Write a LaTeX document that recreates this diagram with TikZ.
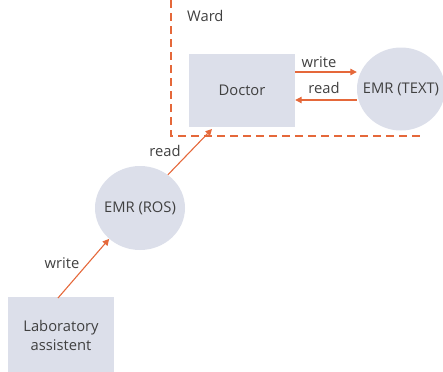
\documentclass[tikz,border=0pt]{standalone}
\usepackage{fontspec}
\setmainfont{Open Sans}
\usetikzlibrary{arrows.meta,shapes.geometric}
\definecolor{boxfill}{HTML}{DCDFEA}
\definecolor{accent}{HTML}{E5683A}
\definecolor{txt}{HTML}{404040}
\begin{document}
\begin{tikzpicture}[x=1bp,y=-1bp,
  lbl/.style={font=\fontsize{14.8}{19}\selectfont, text=txt, inner sep=0pt},
  actor/.style={rectangle, fill=boxfill, minimum width=106bp, minimum height=73bp, align=center, lbl},
  store/.style={ellipse, fill=boxfill, inner sep=0pt},
  link/.style={draw=accent, line width=1.1pt, -{Triangle[length=6.5pt,width=6.5pt]}}
]
\useasboundingbox (0,0) rectangle (443,371);
% ward boundary
\draw[accent, line width=1.1pt, dash pattern=on 8bp off 5bp] (171,0) -- (171,136) -- (420,136);
\node[lbl, anchor=west] (ward) at (187,16) {Ward};
% actors
\node[actor] (doctor) at (242,90.5) {Doctor};
\node[actor, minimum height=76bp] (lab) at (61,335) {Laboratory\\assistent};
% record stores: the shape is sized on its own, the caption sits on top
\node[store, minimum width=90bp, minimum height=84bp] (ros) at (140,208) {};
\node[lbl] (roslabel) at (ros.center) {EMR (ROS)};
\node[store, minimum width=88bp, minimum height=83bp] (text) at (401,89) {};
\node[lbl] (textlabel) at (text.center) {EMR (TEXT)};
% connectors
\coordinate (labtop) at (58,298);
\draw[link] (labtop) -- (ros.225);
\draw[link] (ros.50) -- (212,129);
\draw[link] (doctor.east |- 0,72) -- (text.west |- 0,72);
\draw[link] (text.west |- 0,100) -- (doctor.east |- 0,100);
% connector labels
\node[lbl] (w1) at (62,263) {write};
\node[lbl] (r1) at (165,151) {read};
\node[lbl] (w2) at (319,62) {write};
\node[lbl] (r2) at (324,88) {read};
\end{tikzpicture}
\end{document}
